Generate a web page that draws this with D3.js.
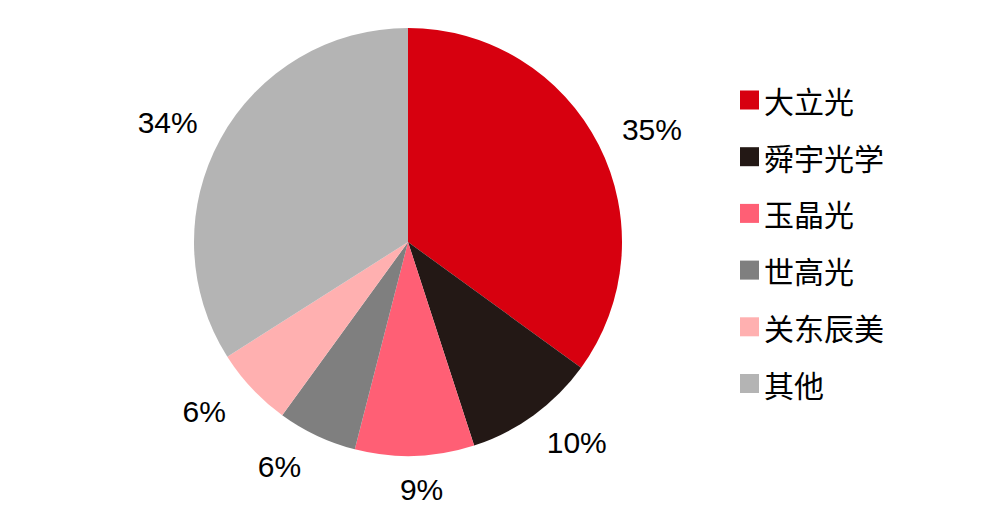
<!DOCTYPE html>
<html>
<head>
<meta charset="utf-8">
<script src="https://cdn.jsdelivr.net/npm/d3@7"></script>
<style>
body{margin:0;background:#fff;}
svg{display:block;}
</style>
</head>
<body>
<svg id="c" width="1000" height="511"></svg>
<script>
const categories = ["大立光","舜宇光学","玉晶光","世高光","关东辰美","其他"];
const values = [35,10,9,6,6,34];
const labels = ["35%","10%","9%","6%","6%","34%"];
const colors = ["#D7000F","#231815","#FF5F75","#7F7F7F","#FFB0B0","#B4B4B4"];

const svg = d3.select("#c");
const cx = 408, cy = 242, R = 214;
const g = svg.append("g").attr("transform",`translate(${cx},${cy})`);

const pie = d3.pie().sort(null).value(d=>d);
const arcs = pie(values);
const arc = d3.arc().innerRadius(0).outerRadius(R);

g.selectAll("path").data(arcs).enter().append("path")
  .attr("d",arc).attr("fill",(d,i)=>colors[i]);

const fontLbl = "Liberation Sans, Arial, sans-serif";
const LR = 248, push = 23;
g.selectAll("text.lbl").data(arcs).enter().append("text")
  .attr("class","lbl")
  .attr("font-family",fontLbl).attr("font-size",30).attr("fill","#000")
  .attr("text-anchor","middle").attr("dominant-baseline","central")
  .text((d,i)=>labels[i])
  .each(function(d){
    const a = (d.startAngle+d.endAngle)/2;
    const s = Math.sin(a), c = Math.cos(a);
    const x = LR*s + push*Math.max(-1, Math.min(1, s*8));
    const y = -LR*c;
    d3.select(this).attr("x", x).attr("y", y);
  });

const lg = svg.append("g");
const y0 = 100, step = 56.7;
categories.forEach((c,i)=>{
  const y = y0 + i*step;
  lg.append("rect").attr("x",740).attr("y",y-9.5).attr("width",19).attr("height",19)
    .attr("fill",colors[i]);
  lg.append("text").attr("x",764).attr("y",y)
    .attr("dominant-baseline","central")
    .attr("font-family","Noto Sans CJK SC, sans-serif").attr("font-size",30)
    .attr("fill","#000").text(c);
});
</script>
</body>
</html>
